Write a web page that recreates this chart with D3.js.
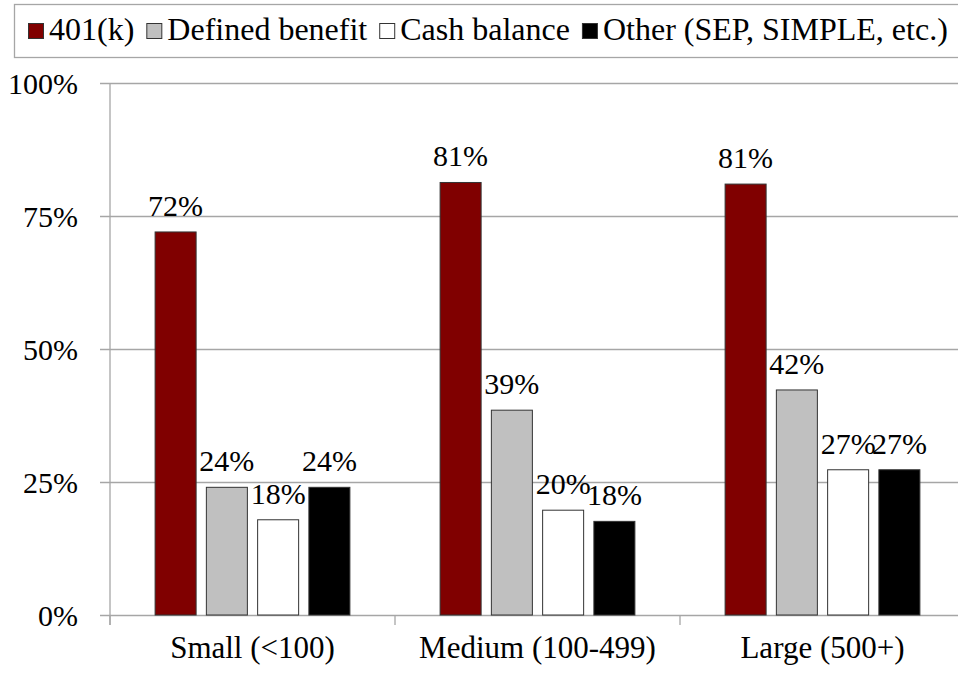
<!DOCTYPE html>
<html>
<head>
<meta charset="utf-8">
<script src="https://cdn.jsdelivr.net/npm/d3@7"></script>
<style>
  html, body { margin: 0; padding: 0; background: #fff; }
  svg { display: block; }
</style>
</head>
<body>
<div id="chart"></div>
<script>
// chart values
const categories = ['Small (<100)', 'Medium (100-499)', 'Large (500+)']
const seriesNames = ['401(k)', 'Defined benefit', 'Cash balance', 'Other (SEP, SIMPLE, etc.)']
const plan401k = [72, 81.3, 81]
const definedBenefit = [24, 38.5, 42.3]
const cashBalance = [17.9, 19.7, 27.3]
const otherPlans = [24, 17.6, 27.3]
const labelText = [
  ['72%', '24%', '18%', '24%'],
  ['81%', '39%', '20%', '18%'],
  ['81%', '42%', '27%', '27%']
]
const yTicks = [0, 0.25, 0.5, 0.75, 1]

const seriesValues = [plan401k, definedBenefit, cashBalance, otherPlans]
const colors = ['#800000', '#c0c0c0', '#ffffff', '#000000']
const gridColor = '#a6a6a6'
const FONT = '"Liberation Serif"'

const width = 958
const height = 673
const margin = { top: 83, right: -7, bottom: 58, left: 110 }

const svg = d3.select('#chart').append('svg')
  .attr('width', width)
  .attr('height', height)

const x0 = d3.scaleBand()
  .domain(categories)
  .range([margin.left, width - margin.right])

const x1 = d3.scaleBand()
  .domain(d3.range(seriesNames.length))
  .range([0, x0.bandwidth()])
  .paddingInner(0.2)
  .paddingOuter(0.88)

const y = d3.scaleLinear()
  .domain([0, 1])
  .range([height - margin.bottom, margin.top])

// gridlines + y axis labels
const yAxis = d3.axisLeft(y)
  .tickValues(yTicks)
  .tickFormat(d3.format('.0%'))
  .tickSize(-(width - margin.left + 10))
  .tickPadding(22)

svg.append('g')
  .attr('transform', `translate(${margin.left - 10},0)`)
  .call(yAxis)
  .call(g => g.select('.domain').remove())
  .call(g => g.selectAll('.tick line').attr('stroke', gridColor).attr('stroke-width', 1.3))
  .call(g => g.selectAll('.tick text')
    .attr('fill', '#000')
    .attr('font-size', 30)
    .attr('dy', '0.34em'))

// vertical axis line
svg.append('line')
  .attr('x1', margin.left).attr('x2', margin.left)
  .attr('y1', y(1)).attr('y2', y(0) + 10)
  .attr('stroke', gridColor).attr('stroke-width', 1.3)

// category boundary ticks
const bounds = categories.map(c => x0(c)).concat([x0(categories[2]) + x0.bandwidth()])
svg.append('g').selectAll('line')
  .data(bounds)
  .join('line')
  .attr('x1', d => d).attr('x2', d => d)
  .attr('y1', y(0)).attr('y2', y(0) + 10)
  .attr('stroke', gridColor).attr('stroke-width', 1.3)

// bars
const groups = svg.append('g').selectAll('g')
  .data(categories)
  .join('g')
  .attr('transform', d => `translate(${x0(d)},0)`)

groups.selectAll('rect')
  .data((d, ci) => seriesValues.map((vals, si) => ({ si, ci, v: vals[ci] / 100 })))
  .join('rect')
  .attr('x', d => x1(d.si))
  .attr('width', x1.bandwidth())
  .attr('y', d => y(d.v))
  .attr('height', d => y(0) - y(d.v))
  .attr('fill', d => colors[d.si])
  .attr('stroke', '#333')
  .attr('stroke-width', 1)

groups.selectAll('text.val')
  .data((d, ci) => seriesValues.map((vals, si) => ({ si, ci, v: vals[ci] / 100 })))
  .join('text')
  .attr('class', 'val')
  .attr('x', d => x1(d.si) + x1.bandwidth() / 2)
  .attr('y', d => y(d.v) - 16)
  .attr('text-anchor', 'middle')
  .attr('font-size', 30)
  .style('font-family', FONT)
  .text(d => labelText[d.ci][d.si])

// category labels
svg.append('g').selectAll('text')
  .data(categories)
  .join('text')
  .attr('x', d => x0(d) + x0.bandwidth() / 2)
  .attr('y', 658)
  .attr('text-anchor', 'middle')
  .attr('font-size', 31)
  .style('font-family', FONT)
  .text(d => d)

// legend
const legend = svg.append('g')
legend.append('rect')
  .attr('x', 14.5).attr('y', 4.5)
  .attr('width', 1000).attr('height', 53)
  .attr('fill', '#fff')
  .attr('stroke', gridColor).attr('stroke-width', 1.3)

let lx = 28
seriesNames.forEach((name, i) => {
  legend.append('rect')
    .attr('x', lx + 0.5).attr('y', 23.5)
    .attr('width', 15).attr('height', 15)
    .attr('fill', colors[i])
    .attr('stroke', '#333')
  const t = legend.append('text')
    .attr('x', lx + 21)
    .attr('y', 40)
    .attr('font-size', 32)
    .style('font-family', FONT)
    .text(name)
  lx += 21 + t.node().getComputedTextLength() + 12
})

svg.selectAll('text').style('font-family', FONT)
</script>
</body>
</html>
